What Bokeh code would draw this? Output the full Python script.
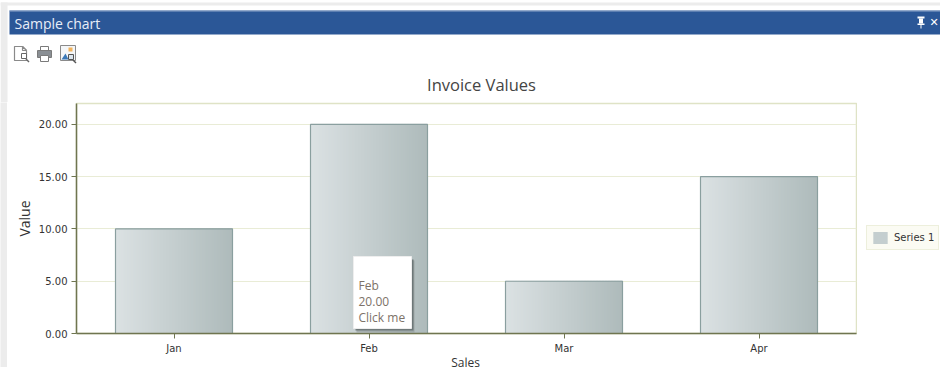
from bokeh.plotting import figure
from bokeh.layouts import column, row
from bokeh.models import (ColumnDataSource, FactorRange, Range1d, FixedTicker, BoxAnnotation, Label,
                          PolyAnnotation, Legend, LegendItem, NumeralTickFormatter)
from bokeh.transform import dodge
from bokeh.embed import file_html
from bokeh.resources import INLINE

categories = ["Jan", "Feb", "Mar", "Apr"]
series_1 = [10.0, 20.0, 5.0, 15.0]
y_ticks = [0, 5, 10, 15, 20]
series_name = "Series 1"
chart_title = "Invoice Values"
panel_title = "Sample chart"
x_title = "Sales"
y_title = "Value"
tip_lines = ["Feb", "20.00", "Click me"]

GRAD_L = (219, 225, 227)
GRAD_R = (174, 187, 187)
OUTLINE = "#8a9f9f"
AXIS = "#6f7550"
PALE = "#dfe3c6"
GRID = "#e9ecd6"
TEXT = "#333333"
STRIPE = "#ececec"
TICK_FONT = "DejaVu Sans"
UI_FONT = "Open Sans"
HEAD_H = 102
STRIP_W = 7
FOOT_H = 11


def grad(t):
    return "#%02x%02x%02x" % tuple(round(a + (b - a) * t) for a, b in zip(GRAD_L, GRAD_R))


def blank(width, height, fill="white"):
    f = figure(width=width, height=height, x_range=Range1d(0, 1), y_range=Range1d(0, 1),
               x_axis_type=None, y_axis_type=None, output_backend="svg", toolbar_location=None, tools="",
               min_border=0, background_fill_color=fill, border_fill_color=fill)
    f.outline_line_color = None
    return f


class Canvas:
    """Decorations on one figure, given in pixels of the whole picture."""
    def __init__(self, fig, ox, oy):
        self.f, self.ox, self.oy = fig, ox, oy

    def box(self, l, t, r, b, fill, line=None, lw=1, alpha=1.0):
        self.f.add_layout(BoxAnnotation(left=l - self.ox, right=r - self.ox, top=t - self.oy, bottom=b - self.oy,
                                        left_units="canvas", right_units="canvas",
                                        top_units="canvas", bottom_units="canvas",
                                        fill_color=fill, fill_alpha=alpha,
                                        line_color=line, line_width=lw, line_alpha=1.0))

    def poly(self, xs, ys, fill, line=None):
        self.f.add_layout(PolyAnnotation(xs=[x - self.ox for x in xs], ys=[y - self.oy for y in ys],
                                         xs_units="canvas", ys_units="canvas",
                                         fill_color=fill, fill_alpha=1.0, line_color=line,
                                         line_width=1.2, line_alpha=1.0))

    def text(self, x, y, s, font=UI_FONT, size="12px", color=TEXT, align="left"):
        self.f.add_layout(Label(x=x - self.ox, y=y - self.oy, x_units="canvas", y_units="canvas", text=s,
                                text_font=font, text_font_size=size, text_color=color,
                                text_align=align, text_baseline="middle"))


# ---- header: panel title, toolbar icons, chart title
head = blank(940, HEAD_H)
h = Canvas(head, 0, 0)
h.box(0, 2, 940, 5, STRIPE)
h.box(0, 2, STRIP_W, HEAD_H, STRIPE)
h.box(9, 10, 940, 34, "#2b5797")
h.box(9, 10, 940, 11, "#8fa8cc")
h.text(14, 22.5, panel_title, size="14px", color="#e8eef8")
h.text(481, 84, chart_title, size="16.5px", color="#444444", align="center")
# pin and close glyphs
h.box(917, 16, 924, 18, "white")
h.box(918.5, 18, 922.5, 23, "white")
h.box(917, 23, 924, 24.5, "white")
h.box(920, 24.5, 921, 28, "white")
h.text(929, 22, "\u2715", font="DejaVu Sans", size="11px", color="white")
# page + lens
h.poly([14, 22, 26, 26, 14], [46, 46, 50, 60, 60], "white", "#8a8a8a")
h.poly([22, 22, 26], [46, 50, 50], "white", "#8a8a8a")
h.box(21, 53, 26, 58, "white", "#666666")
h.poly([26, 29, 28, 25], [58, 61, 62, 59], "#666666")
# printer
h.box(40, 46, 48, 50, "white", "#7a7a7a")
h.box(37, 50, 51, 57, "#8a8f94", "#7a7a7a")
h.box(40, 55, 48, 61, "white", "#7a7a7a")
# picture + lens
h.box(60, 45, 75, 60, "#f4f6f8", "#8a8a8a")
h.poly([61, 65, 68], [59, 53, 59], "#3b78b8")
h.box(68, 47, 72, 51, "#f2b35c")
h.box(68, 54, 73, 59, "#dce6ee", "#555555")
h.poly([73, 76, 75, 72], [59, 62, 63, 60], "#555555")

# ---- left stripe of the window
strip = blank(STRIP_W, 367 - HEAD_H, STRIPE)

# ---- main chart
src = ColumnDataSource(dict(cat=categories, val=series_1))
p = figure(width=850, height=367 - HEAD_H - FOOT_H, x_range=FactorRange(factors=categories), y_range=Range1d(0, 22),
           output_backend="svg", toolbar_location=None, tools="",
           min_border_left=69, min_border_right=1, min_border_top=1, min_border_bottom=23,
           background_fill_color="white", border_fill_color="white")
p.outline_line_color = PALE
p.outline_line_width = 1.5

# each bar is a row of narrow vertical strips making the horizontal gradient
BAR_W = 0.6
N = 78
step = BAR_W / N
for i in range(N):
    off = -BAR_W / 2 + step * (i + 0.5)
    c = grad(i / (N - 1))
    p.vbar(x=dodge("cat", off, range=p.x_range), top="val", bottom=0, width=step,
           source=src, fill_color=c, line_color=c, line_width=1)
p.vbar(x="cat", top="val", bottom=0, width=BAR_W, source=src, fill_alpha=0, line_color=OUTLINE, line_width=1.2)

p.xgrid.visible = False
p.ygrid.grid_line_color = GRID
p.ygrid.grid_line_width = 1.2
p.yaxis.ticker = FixedTicker(ticks=y_ticks)
p.yaxis.formatter = NumeralTickFormatter(format="0.00")
for ax in (p.xaxis[0], p.yaxis[0]):
    ax.axis_line_color = AXIS
    ax.axis_line_width = 1.5
    ax.major_tick_line_color = AXIS
    ax.major_tick_in = 0
    ax.major_tick_out = 5
    ax.minor_tick_line_color = None
    ax.major_label_text_font = TICK_FONT
    ax.major_label_text_font_size = "10px"
    ax.major_label_text_color = TEXT
    ax.major_label_standoff = 4
p.yaxis.axis_label = y_title
p.yaxis.axis_label_text_font = UI_FONT
p.yaxis.axis_label_text_font_size = "14px"
p.yaxis.axis_label_text_font_style = "normal"
p.yaxis.axis_label_text_color = TEXT
p.yaxis.axis_label_standoff = 2

m = Canvas(p, STRIP_W, HEAD_H)
# tooltip
m.box(356, 260, 414, 332, "#8b9494", alpha=0.55)
m.box(355, 259, 413, 330, "#626c6c", alpha=0.8)
m.box(353, 256, 411, 328, "white", "#eeeeee", 1)
for yy, line in zip((285, 301, 317), tip_lines):
    m.text(358, yy, line, color="#7d7268")

# ---- strip under the chart, with the x axis title
foot = blank(850, FOOT_H)
Canvas(foot, STRIP_W, 367 - FOOT_H).text(465, 360.5, x_title, size="12px", align="center")

# ---- legend
leg = blank(83, 367 - HEAD_H)
proxy = leg.vbar(x=[0.5], top=[0.5], bottom=[0.5], width=0, fill_color=grad(0.5), line_color=None)
leg.add_layout(Legend(items=[LegendItem(label=series_name, renderers=[proxy])],
                      location=(9, 117), orientation="vertical",
                      background_fill_color="#fbfbf3", background_fill_alpha=1.0,
                      border_line_color=PALE, border_line_width=1.5,
                      glyph_width=18, glyph_height=15, label_standoff=5,
                      label_text_font=TICK_FONT, label_text_font_size="10px", label_text_color=TEXT,
                      label_height=15, margin=0, padding=4, spacing=0), "center")
g = Canvas(leg, 857, HEAD_H)
M = 18
for i in range(M):
    g.box(871 + i, 230, 872.3 + i, 245, grad(i / (M - 1)))
g.box(871, 230, 889, 245, grad(0.5), OUTLINE, 1.2, 0)

page = column(head, row(strip, column(p, foot, spacing=0), leg, spacing=0), spacing=0)
open("out.html", "w").write(file_html(page, INLINE))
